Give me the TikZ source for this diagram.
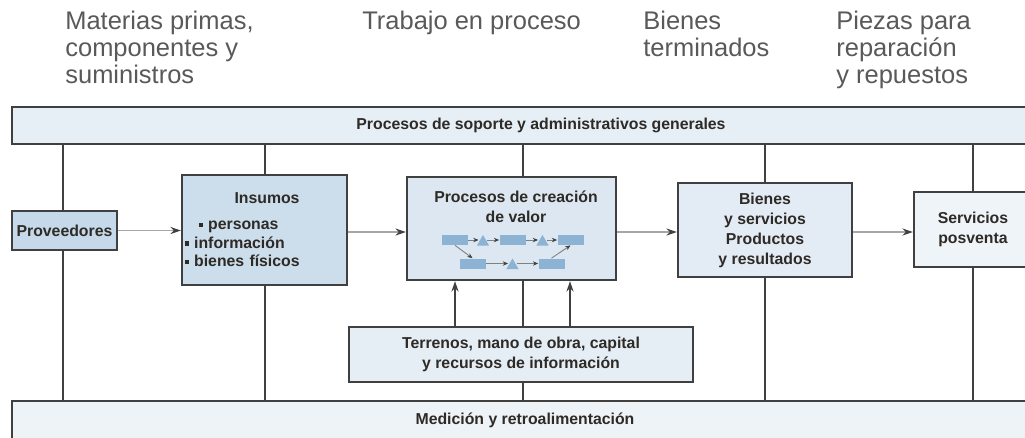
\documentclass[tikz,border=0pt]{standalone}
\usepackage{fontspec}
\setmainfont{Liberation Sans}
\usetikzlibrary{arrows.meta,shapes.geometric}
\definecolor{edge}{HTML}{404040}
\definecolor{txt}{HTML}{2E2A26}
\definecolor{headtxt}{HTML}{595959}
\definecolor{topfill}{HTML}{E6EEF6}
\definecolor{botfill}{HTML}{EEF3F8}
\definecolor{provfill}{HTML}{C6D9EA}
\definecolor{insfill}{HTML}{CCDDEB}
\definecolor{procfill}{HTML}{DCE7F1}
\definecolor{bienfill}{HTML}{E3ECF5}
\definecolor{servfill}{HTML}{EFF4F9}
\definecolor{terrfill}{HTML}{E5EDF5}
\definecolor{stagefill}{HTML}{8CB2D4}
\begin{document}
\begin{tikzpicture}[
		x=0.02cm, y=-0.02cm,
		box/.style={draw=edge, line width=1.2pt, text=txt, align=center, inner sep=2pt,
				font=\bfseries\fontsize{9}{11.4}\selectfont},
		band/.style={box, line width=1.4pt},
		vline/.style={draw=edge, line width=0.9pt},
		flow/.style={draw=gray!70, line width=0.8pt, -{Stealth[length=6pt,width=4pt,color=edge]}},
		lift/.style={draw=edge, line width=1.2pt, -{Stealth[length=6pt,width=4pt]}},
		stage/.style={fill=stagefill, minimum width=0.52cm, minimum height=0.2cm, inner sep=0pt},
		tri/.style={regular polygon, regular polygon sides=3, fill=stagefill, minimum size=0.28cm, inner sep=0pt},
		link/.style={draw=gray, line width=0.5pt, -{Stealth[length=3pt,width=2.5pt,color=edge]}},
		head/.style={anchor=north west, inner sep=0pt, align=left, text=headtxt,
				font=\fontsize{14.5}{15.4}\selectfont}
	]
	\clip (0,0) rectangle (1025,437);
	\node[head] (raw) at (65,11) {Materias primas,\\componentes y\\suministros};
	\node[head] (wip) at (362,11) {Trabajo en proceso};
	\node[head] (done) at (643,11) {Bienes\\terminados};
	\node[head] (spare) at (836,11) {Piezas para\\reparación\\y repuestos};
	\node[band, fill=topfill, minimum width=21.16cm, minimum height=0.74cm] (top) at (541,125.5)
		{Procesos de soporte y administrativos generales};
	\node[band, fill=botfill, minimum width=20.52cm, minimum height=0.76cm] (bot) at (525,420)
		{Medición y retroalimentación};
	\foreach \n/\x in {1/63,2/265,3/523,4/765,5/973} {
			\coordinate (v\n) at (\x,300);
			\draw[vline] (top.south -| v\n) -- (bot.north -| v\n);
		}
	\node[box, fill=provfill, minimum width=2.1cm, minimum height=0.78cm, inner xsep=1pt] (prov) at (64.5,230.5)
		{Proveedores};
	\node[box, fill=insfill, minimum width=3.3cm, minimum height=2.2cm, text width=3.2cm, align=left, inner xsep=1pt,
		font=\bfseries\fontsize{9}{10.6}\selectfont]
		(ins) at (264.5,230)
		{\hspace*{1.0cm}Insumos\\[4pt]
			\hspace*{0.28cm}\rule[1.5pt]{2.5pt}{2.5pt} personas\\
			\rule[1.5pt]{2.5pt}{2.5pt} información\\
			\rule[1.5pt]{2.5pt}{2.5pt} bienes físicos};
	\node[box, fill=procfill, minimum width=4.18cm, minimum height=2.06cm] (proc) at (511.5,228.5) {};
	\node[box, draw=none, fill=none, anchor=north] (proct) at (516,186) {Procesos de creación\\de valor};
	\node[box, fill=bienfill, minimum width=3.48cm, minimum height=1.88cm] (bien) at (765,230)
		{Bienes\\y servicios\\Productos\\y resultados};
	\node[box, fill=servfill, minimum width=2.36cm, minimum height=1.5cm] (serv) at (973,229.5)
		{Servicios\\posventa};
	\node[box, fill=terrfill, minimum width=6.88cm, minimum height=1.1cm] (terr) at (521,354.5)
		{Terrenos, mano de obra, capital\\y recursos de información};
	\node[stage] (s1) at (455,240) {};
	\node[tri] (t1) at (483,242) {};
	\node[stage] (s2) at (512.5,240) {};
	\node[tri] (t2) at (542.5,242) {};
	\node[stage] (s3) at (570.5,240) {};
	\node[stage] (s4) at (472.5,263.5) {};
	\node[tri] (t3) at (512.5,265.5) {};
	\node[stage] (s5) at (551.5,263.5) {};
	\draw[link] (s1.east) -- (s1.east -| t1.west);
	\draw[link] (t1.east |- s1.east) -- (s2.west);
	\draw[link] (s2.east) -- (s2.east -| t2.west);
	\draw[link] (t2.east |- s2.east) -- (s3.west);
	\draw[link] (s4.east) -- (s4.east -| t3.west);
	\draw[link] (t3.east |- s4.east) -- (s5.west);
	\draw[link] (s1.south) -- (s4.north);
	\draw[link] (s5.north) -- (s3.south);
	\draw[flow] (prov.east) -- (prov.east -| ins.west);
	\draw[flow] (ins.east |- 0,232) -- (proc.west |- 0,232);
	\draw[flow] (proc.east |- 0,232) -- (bien.west |- 0,232);
	\draw[flow] (bien.east |- 0,232) -- (serv.west |- 0,232);
	\coordinate (a1) at (455,300);
	\coordinate (a2) at (570,300);
	\draw[lift] (terr.north -| a1) -- (proc.south -| a1);
	\draw[lift] (terr.north -| a2) -- (proc.south -| a2);
\end{tikzpicture}
\end{document}
